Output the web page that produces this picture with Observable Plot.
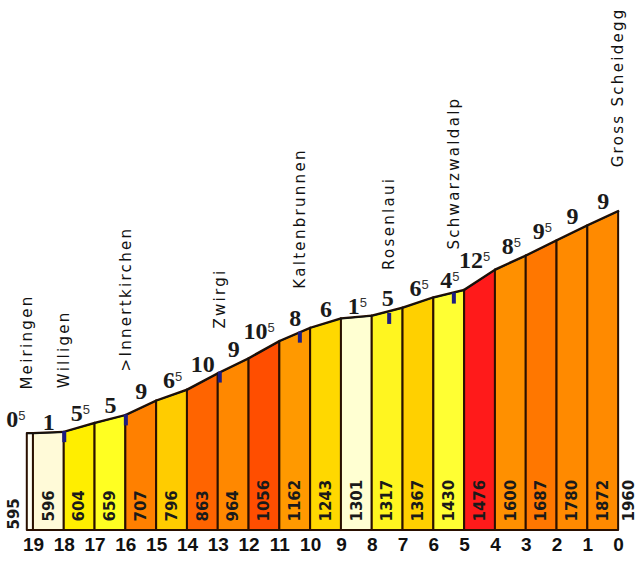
<!DOCTYPE html>
<html><head><meta charset="utf-8">
<script src="https://cdn.jsdelivr.net/npm/d3@7"></script>
<script src="https://cdn.jsdelivr.net/npm/@observablehq/plot@0.6"></script>
<style>
html,body{margin:0;padding:0;background:#fff;}
g[font-family="DejaVu Sans, Verdana, sans-serif"]{letter-spacing:2.3px;}
</style></head><body><div id="chart"></div>
<script>
// distance remaining to the summit (km) at each profile point
const kmPoints = [19.2, 19, 18, 17, 16, 15, 14, 13, 12, 11, 10, 9, 8, 7, 6, 5, 4, 3, 2, 1, 0];
// elevation (m) at each profile point
const elevations = [595, 596, 604, 659, 707, 796, 863, 964, 1056, 1162, 1243, 1301, 1317, 1367, 1430, 1476, 1600, 1687, 1780, 1872, 1960];
// average gradient (%) of each segment
const grades = [0.5, 1, 5.5, 5, 9, 6.5, 10, 9, 10.5, 8, 6, 1.5, 5, 6.5, 4.5, 12.5, 8.5, 9.5, 9, 9];
// fill colour of each segment
const colors = ["#fffff4", "#fffad8", "#ffee00", "#ffff22", "#ff8000", "#ffcc00", "#ff6400", "#ff8800",
                "#ff4e00", "#ff9900", "#ffd800", "#ffffd2", "#fff520", "#ffd000", "#ffff33", "#ff1a1a",
                "#ff9000", "#ff7700", "#ff8a00", "#ff8a00"];
// km tick labels
const kmTicks = [19, 18, 17, 16, 15, 14, 13, 12, 11, 10, 9, 8, 7, 6, 5, 4, 3, 2, 1, 0];
// places along the climb
const placeNames = ["Meiringen", "Willigen", ">Innertkirchen", "Zwirgi", "Kaltenbrunnen", "Rosenlaui", "Schwarzwaldalp", "Gross Scheidegg"];
const placeKm = [19.2, 18, 16, 12.95, 10.35, 7.45, 5.35, 0];
const placeElev = [595, 604, 707, 970, 1215, 1330, 1455, 1960];
const placeMarker = [false, true, true, true, true, true, true, false];

const segments = [];
for (let i = 0; i < grades.length; i++) {
  segments.push({seg: i, km: kmPoints[i], elev: elevations[i], color: colors[i]});
  segments.push({seg: i, km: kmPoints[i + 1], elev: elevations[i + 1], color: colors[i]});
}
const profile = kmPoints.map((km, i) => ({km, elev: elevations[i]}));
const gradeRows = grades.map((g, i) => ({
  mid: (kmPoints[i] + kmPoints[i + 1]) / 2,
  start: kmPoints[i],
  endElev: elevations[i + 1],
  whole: String(Math.floor(g)),
  half: g % 1 !== 0
}));
const firstGrade = gradeRows.slice(0, 1);          // narrow first segment: label set to its left
const otherGrades = gradeRows.slice(1);
const barLabels = grades.map((g, i) => ({mid: (kmPoints[i] + kmPoints[i + 1]) / 2, label: String(elevations[i])})).slice(1);
const firstLabel = [{km: kmPoints[0], label: String(elevations[0])}];
const lastLabel = [{km: kmPoints[kmPoints.length - 1], label: String(elevations[elevations.length - 1])}];
const places = placeNames.map((name, i) => ({name, km: placeKm[i], elev: placeElev[i], marker: placeMarker[i]}));

const barSymbol = {draw(ctx) { ctx.rect(-2, -1, 4, 11); }};
const elevFont = "DejaVu Sans, sans-serif";
const placeFont = "DejaVu Sans, Verdana, sans-serif";
const gradeFont = "Liberation Serif, Times New Roman, serif";
const supFont = "Liberation Sans, Arial, sans-serif";
const gradeStyle = {lineAnchor: "bottom", fontSize: 24, fontWeight: "bold", fontFamily: gradeFont, fill: "#1a1a1a"};
const supStyle = {lineAnchor: "bottom", fontSize: 13, fontFamily: supFont, fill: "#333"};

const chart = Plot.plot({
  width: 640, height: 561,
  marginTop: 0, marginLeft: 0, marginRight: 0, marginBottom: 31,
  x: {domain: [20.07, -0.71], axis: null},
  y: {domain: [0, 3255], axis: null},
  color: {type: "identity"},
  style: {background: "#fff"},
  marks: [
    Plot.areaY(segments, {x: "km", y1: 0, y2: "elev", z: "seg", fill: "color", stroke: "#2a1000", strokeWidth: 2}),
    Plot.line(profile, {x: "km", y: "elev", stroke: "#111", strokeWidth: 1.5}),
    Plot.dot(places.filter(d => d.marker), {x: "km", y: "elev", symbol: barSymbol, fill: "#1d1d80", stroke: "none"}),
    // elevation labels in bars
    Plot.text(barLabels, {x: "mid", y: 0, text: "label", rotate: -90, textAnchor: "start", dy: -9,
      fontSize: 15, fontWeight: "bold", fontFamily: elevFont, fill: "#1a1a1a"}),
    Plot.text(firstLabel, {x: "km", y: 0, text: "label", rotate: -90, textAnchor: "start", dx: -13, dy: -1,
      fontSize: 15, fontWeight: "bold", fontFamily: elevFont, fill: "#1a1a1a"}),
    Plot.text(lastLabel, {x: "km", y: 0, text: "label", rotate: -90, textAnchor: "start", dx: 11, dy: -9,
      fontSize: 15, fontWeight: "bold", fontFamily: elevFont, fill: "#1a1a1a"}),
    // gradient labels
    Plot.text(otherGrades.filter(d => !d.half), {x: "mid", y: "endElev", text: "whole", textAnchor: "middle", dy: -2, ...gradeStyle}),
    Plot.text(otherGrades.filter(d => d.half), {x: "mid", y: "endElev", text: "whole", textAnchor: "end", dx: 3, dy: -2, ...gradeStyle}),
    Plot.text(otherGrades.filter(d => d.half), {x: "mid", y: "endElev", text: () => "5", textAnchor: "start", dx: 3, dy: -9, ...supStyle}),
    Plot.text(firstGrade, {x: "start", y: "endElev", text: "whole", textAnchor: "end", dx: -9, dy: -6, ...gradeStyle}),
    Plot.text(firstGrade, {x: "start", y: "endElev", text: () => "5", textAnchor: "start", dx: -9, dy: -13, ...supStyle}),
    // place names
    Plot.text(places, {x: "km", y: "elev", text: "name", rotate: -90, textAnchor: "start", dy: -44,
      fontSize: 15, fontFamily: placeFont, fill: "#111"}),
    // km axis labels
    Plot.text(kmTicks, {x: d => d, y: 0, text: d => String(d), dy: 14, fontSize: 19, fontWeight: "bold",
      fontFamily: "Liberation Sans Narrow, Liberation Sans, Arial, sans-serif", fill: "#111"})
  ]
});
document.getElementById("chart").appendChild(chart);
</script>
</body></html>
